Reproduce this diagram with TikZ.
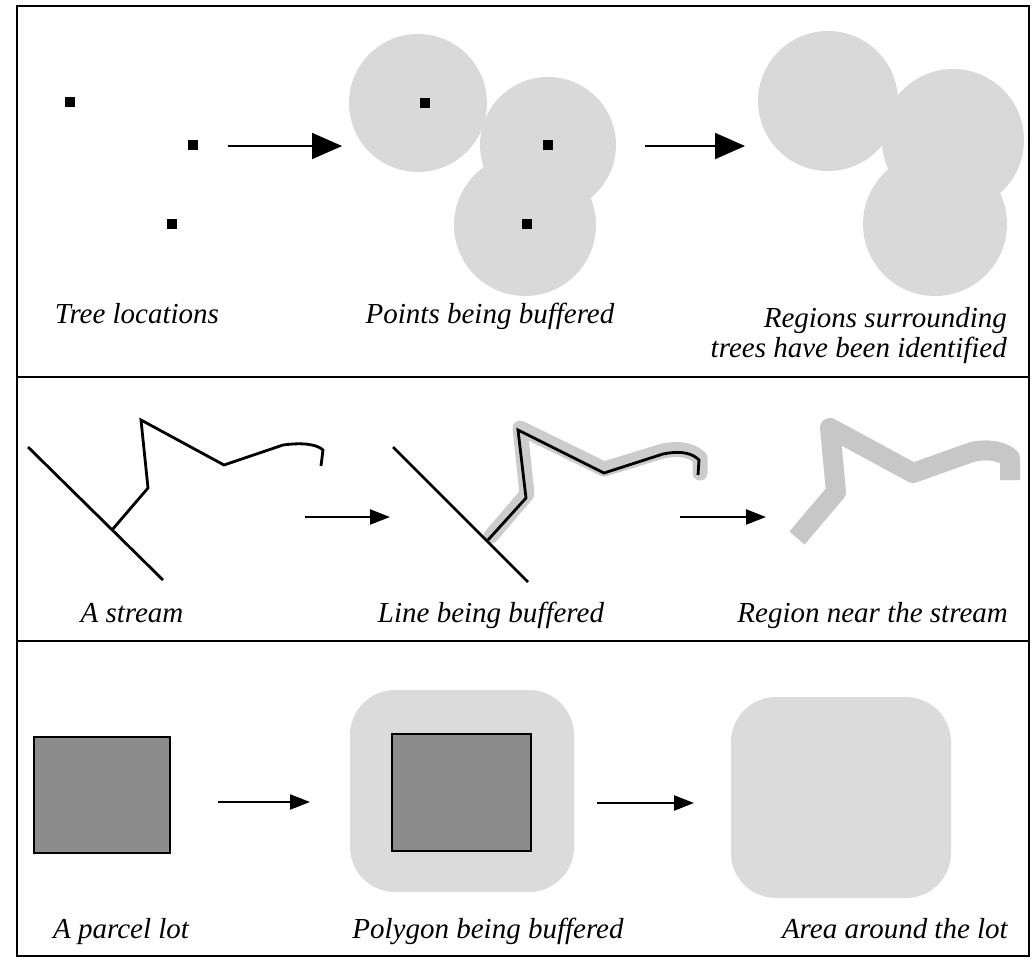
\documentclass[tikz,border=0pt]{standalone}
\usepackage{fontspec}
\setmainfont{Liberation Serif}
\usetikzlibrary{arrows.meta}
\definecolor{circgray}{gray}{0.85}
\definecolor{bandgray}{gray}{0.78}
\definecolor{lightband}{gray}{0.80}
\definecolor{lotgray}{gray}{0.55}
\definecolor{areagray}{gray}{0.86}
\begin{document}
\begin{tikzpicture}[x=1pt,y=-1pt,
  bigarrow/.style={-{Triangle[length=30pt,width=26pt]}, line width=2pt},
  smallarrow/.style={-{Triangle[length=20pt,width=15pt]}, line width=2.2pt},
  lbl/.style={font=\itshape\fontsize{29}{34}\selectfont, inner sep=0pt},
  tree/.style={rectangle, fill=black, minimum size=10pt, inner sep=0pt},
  streamline/.style={line width=2.8pt, line join=miter},
  frameline/.style={line width=2.8pt},
  lotbox/.style={fill=lotgray, draw=black, line width=2.2pt}]
\useasboundingbox (0,0) rectangle (1036,958);
% frame
\draw[frameline] (17,6) rectangle (1029,956);
\draw[frameline] (17,377) -- (1029,377);
\draw[frameline] (17,641) -- (1029,641);

% ===== Panel 1 =====
\node[tree] (t1) at (70,102) {};
\node[tree] (t2) at (193,145) {};
\node[tree] (t3) at (172,224) {};
\coordinate (a1s) at (228,146);
\coordinate (a1e) at (342,146);
\draw[bigarrow] (a1s) -- (a1e);

\fill[circgray] (418,103) circle (69);
\fill[circgray] (548,145) circle (68);
\fill[circgray] (525,225) circle (71);
\node[tree] (b1) at (425,103) {};
\node[tree] (b2) at (548,145) {};
\node[tree] (b3) at (527,224) {};
\coordinate (a2s) at (645,146);
\coordinate (a2e) at (745,146);
\draw[bigarrow] (a2s) -- (a2e);

\fill[circgray] (828,101) circle (70);
\fill[circgray] (953,140) circle (71);
\fill[circgray] (935,224) circle (72);

\node[lbl, anchor=base] (l1) at (137,323) {Tree locations};
\node[lbl, anchor=base] (l2) at (490,323) {Points being buffered};
\node[lbl, anchor=base east] (l3) at (1007,327) {Regions surrounding};
\node[lbl, anchor=base east] (l4) at (1007,357) {trees have been identified};

% ===== Panel 2 =====
\draw[streamline] (28,447) -- (163,580);
\draw[streamline] (112,530) -- (148,488) -- (141,420) -- (224,465) -- (283,445)
  .. controls (305,442) and (318,445) .. (323,450) -- (321,466);
\coordinate (a3s) at (305,517);
\coordinate (a3e) at (390,517);
\draw[smallarrow] (a3s) -- (a3e);

\draw[lightband, line width=15pt, line join=round, line cap=round]
  (491,536) -- (527,494) -- (520,428) -- (604,469) -- (663,451)
  .. controls (683,447) and (694,452) .. (700,458) -- (700,473);
\draw[streamline] (393,447) -- (528,582);
\draw[streamline] (488,540) -- (526,498) -- (518,430) -- (604,473) -- (663,454)
  .. controls (683,450) and (693,454) .. (699,460) -- (698,475);
\coordinate (a4s) at (680,517);
\coordinate (a4e) at (766,517);
\draw[smallarrow] (a4s) -- (a4e);

\draw[bandgray, line width=20pt, line join=round]
  (797,538) -- (836,492) -- (830,428) -- (913,473) -- (972,452)
  .. controls (990,448) and (1003,452) .. (1010,458) -- (1010,480);

\node[lbl, anchor=base] (l5) at (132,622) {A stream};
\node[lbl, anchor=base] (l6) at (491,622) {Line being buffered};
\node[lbl, anchor=base east] (l7) at (1008,622) {Region near the stream};

% ===== Panel 3 =====
\node[lotbox, minimum width=136pt, minimum height=116pt, anchor=north west] (lot1) at (33,736) {};
\coordinate (a5s) at (218,802);
\coordinate (a5e) at (310,802);
\draw[smallarrow] (a5s) -- (a5e);

\fill[areagray, rounded corners=45pt] (350,690) rectangle (574,892);
\node[lotbox, minimum width=139pt, minimum height=117pt, anchor=north west] (lot2) at (391,733) {};
\coordinate (a6s) at (597,803);
\coordinate (a6e) at (694,803);
\draw[smallarrow] (a6s) -- (a6e);

\fill[areagray, rounded corners=45pt] (731,697) rectangle (951,898);

\node[lbl, anchor=base] (l8) at (121,938) {A parcel lot};
\node[lbl, anchor=base] (l9) at (488,938) {Polygon being buffered};
\node[lbl, anchor=base east] (l10) at (1008,938) {Area around the lot};
\end{tikzpicture}
\end{document}
